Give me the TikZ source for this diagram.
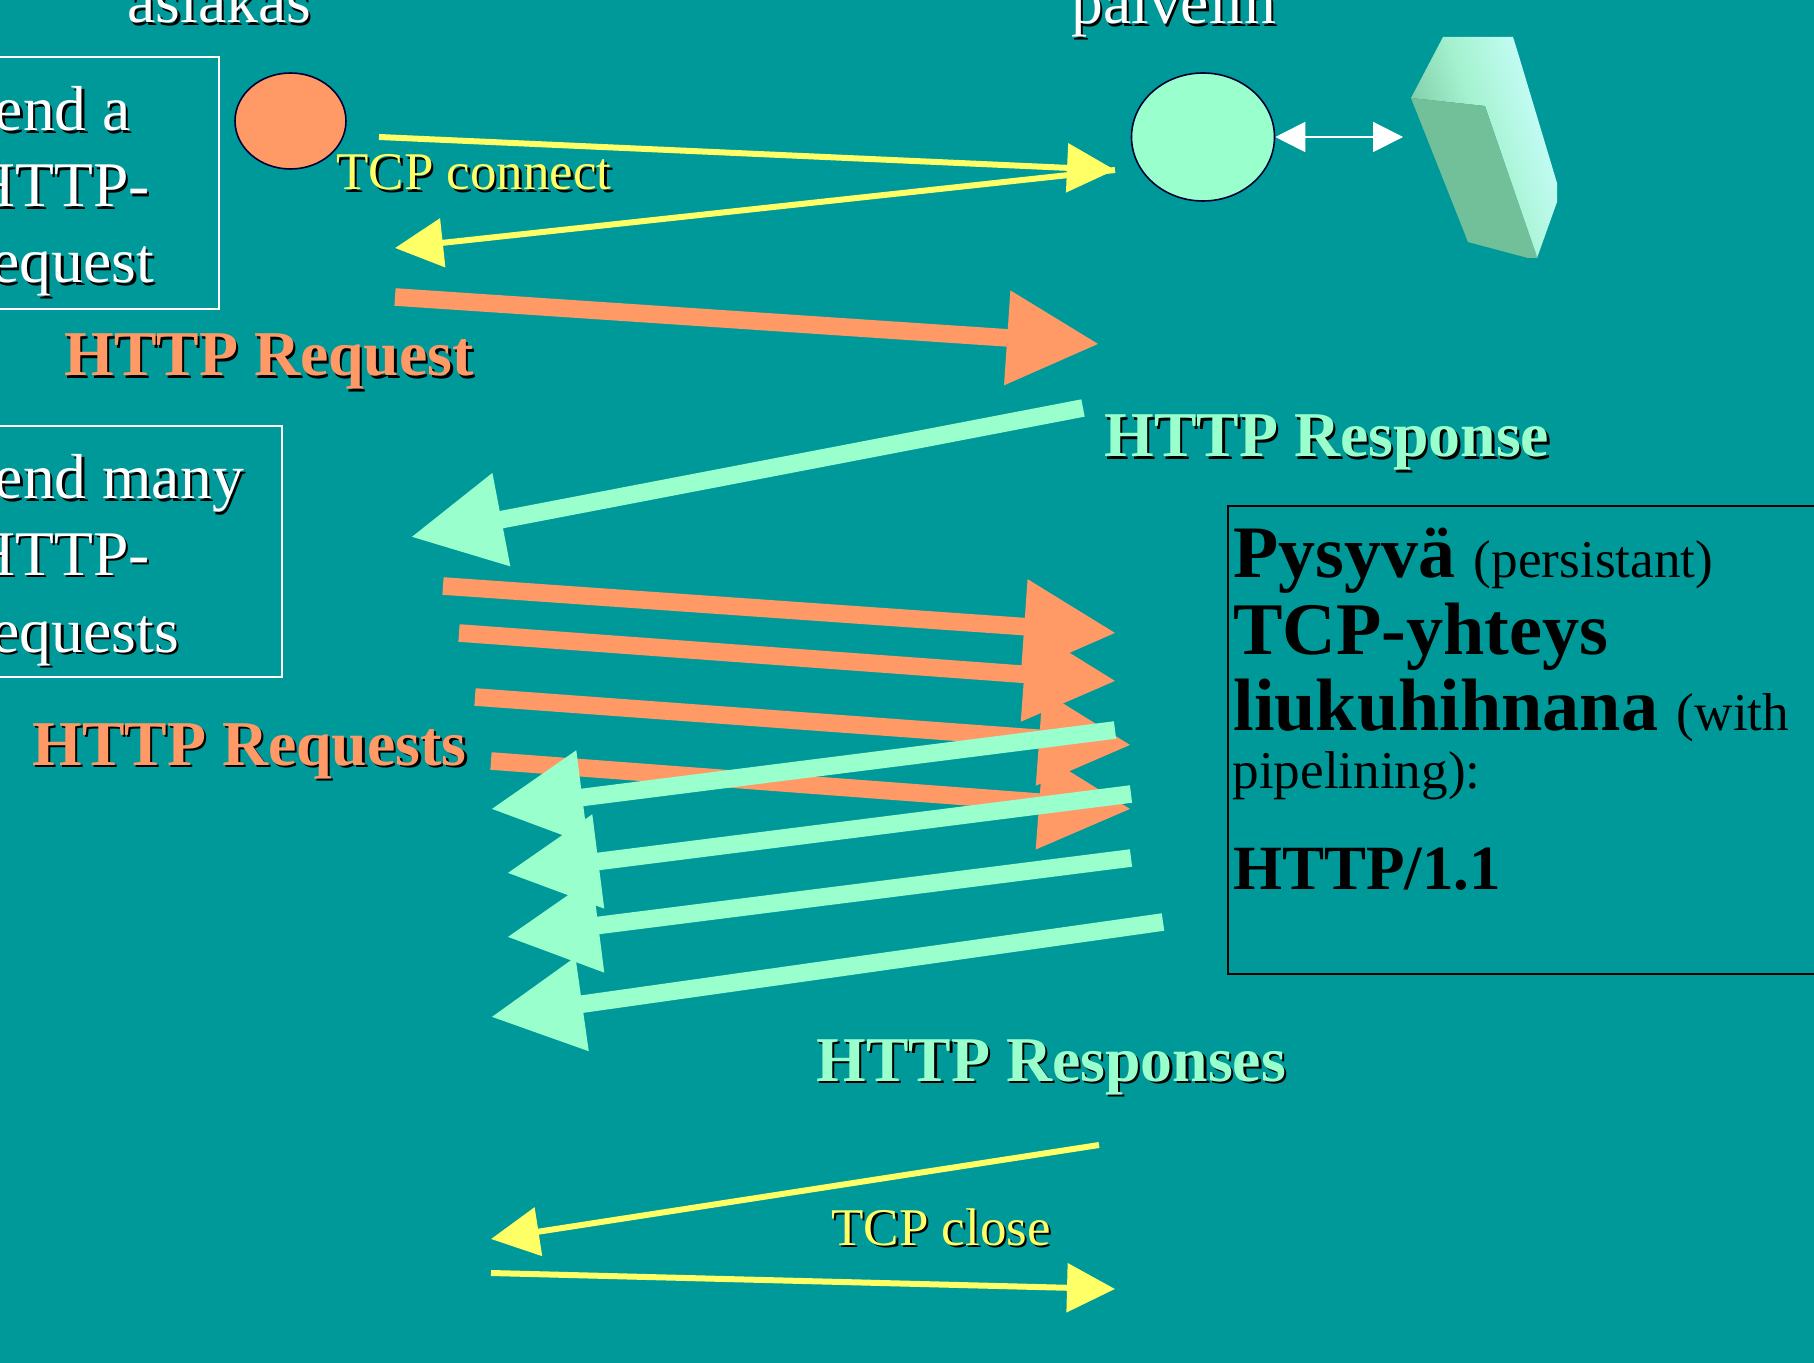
\documentclass[tikz,border=0pt]{standalone}
\usepackage{fontspec}
\usepackage{xcolor}
\setmainfont{Liberation Serif}
\usetikzlibrary{arrows.meta,shapes.geometric}
\definecolor{slidebg}{HTML}{009999}
\definecolor{reqcolor}{HTML}{FF9966}
\definecolor{respcolor}{HTML}{99FFCC}
\definecolor{tcpcolor}{HTML}{FFFF66}
\definecolor{diskdark}{HTML}{72C09A}
\definecolor{diskmid}{HTML}{A4F2CF}
\definecolor{disklight}{HTML}{CCFFFF}
\newcommand{\shadowed}[2]{\leavevmode\rlap{\hspace{1.2pt}\raisebox{-1.2pt}{\color{black}#2}}{\color{#1}#2}}
\tikzset{
	lbl/.style={inner sep=0pt,anchor=base west},
	bigfont/.style={lbl,font=\fontsize{31.8}{36}\selectfont},
	boldfont/.style={lbl,font=\fontsize{31.9}{36}\selectfont\bfseries},
	tcpfont/.style={lbl,font=\fontsize{26.5}{30}\selectfont},
	reqarrow/.style={draw=reqcolor,line width=8.8pt,-{Triangle[length=46pt,width=45pt,fill=reqcolor]}},
	resparrow/.style={draw=respcolor,line width=8.8pt,-{Triangle[length=46pt,width=45pt,fill=respcolor]}},
	tcparrow/.style={draw=tcpcolor,line width=3pt,-{Triangle[length=24pt,width=24pt,fill=tcpcolor]}},
	hostnode/.style={ellipse,draw=black!80!blue,line width=0.8pt,inner sep=0pt},
}
\begin{document}
\begin{tikzpicture}[x=0.5pt,y=-0.5pt]
	\useasboundingbox (0,0) rectangle (1814,1363);
	\clip (0,0) rectangle (1814,1363);
	\fill[slidebg] (0,0) rectangle (1814,1363);
	\node[bigfont] (asiakas) at(127,23) {\shadowed{white}{asiakas}};
	\node[bigfont] (palvelin) at(1071,24) {\shadowed{white}{palvelin}};
	\draw[white,line width=1.3pt] (-20,57) rectangle (219,309);
	\node[bigfont] (senda) at(-41,131) {\shadowed{white}{Send a}};
	\node[bigfont] (sendb) at(-31,207) {\shadowed{white}{HTTP-}};
	\node[bigfont] (sendc) at(-30,283) {\shadowed{white}{request}};
	\draw[white,line width=1.3pt] (-20,426) rectangle (282,677);
	\node[bigfont] (manya) at(-41,499) {\shadowed{white}{Send many}};
	\node[bigfont] (manyb) at(-31,575) {\shadowed{white}{HTTP-}};
	\node[bigfont] (manyc) at(-30,652) {\shadowed{white}{requests}};
	\node[hostnode,fill=reqcolor,minimum width=55.5pt,minimum height=48pt] (client) at(290.5,121) {};
	\node[hostnode,fill=respcolor,minimum width=71.5pt,minimum height=64pt] (server) at(1203,137) {};
	\shade[left color=diskdark,right color=disklight,middle color=diskmid,shading angle=107] (1411,98)--(1443,37)--(1513,37)--(1518,53)--(1557,183)--(1557,202)--(1537,258)--(1485,106)--cycle;
	\fill[diskdark] (1411,98)--(1485,106)--(1537.5,258)--(1528,258)--(1468,242)--cycle;
	\coordinate (disk) at(1403,137);
	\draw[white,line width=1pt,{Triangle[length=15pt,width=15pt]}-{Triangle[length=15pt,width=15pt]}] (server.east)--(disk);
	\coordinate (cona) at(379,137);
	\coordinate (conb) at(1115,170);
	\coordinate (conc) at(395,248);
	\draw[tcparrow] (cona)--(conb);
	\draw[tcparrow] (conb)--(conc);
	\node[tcpfont] (connect) at(336,190) {\shadowed{tcpcolor}{TCP connect}};
	\coordinate (reqa) at(395,297);
	\coordinate (reqb) at(1099,344);
	\draw[reqarrow] (reqa)--(reqb);
	\node[boldfont] (request) at(64,376) {\shadowed{reqcolor}{HTTP Request}};
	\coordinate (respa) at(1083,408);
	\coordinate (respb) at(411,537);
	\draw[resparrow] (respa)--(respb);
	\node[boldfont] (response) at(1104,457) {\shadowed{respcolor}{HTTP Response}};
	\coordinate (pipea) at(443,586);
	\coordinate (pipeb) at(1116,633);
	\coordinate (pipec) at(459,633);
	\coordinate (piped) at(1116,681);
	\coordinate (pipee) at(475,697);
	\coordinate (pipef) at(1131,745);
	\coordinate (pipeg) at(491,761);
	\coordinate (pipeh) at(1131,809);
	\draw[reqarrow] (pipea)--(pipeb);
	\draw[reqarrow] (pipec)--(piped);
	\draw[reqarrow] (pipee)--(pipef);
	\draw[reqarrow] (pipeg)--(pipeh);
	\node[boldfont] (requests) at(32,765) {\shadowed{reqcolor}{HTTP Requests}};
	\coordinate (backa) at(1115,730);
	\coordinate (backb) at(491,809);
	\coordinate (backc) at(1131,794);
	\coordinate (backd) at(507,873);
	\coordinate (backe) at(1131,858);
	\coordinate (backf) at(507,937);
	\coordinate (backg) at(1163,922);
	\coordinate (backh) at(491,1017);
	\draw[resparrow] (backa)--(backb);
	\draw[resparrow] (backc)--(backd);
	\draw[resparrow] (backe)--(backf);
	\draw[resparrow] (backg)--(backh);
	\node[boldfont] (responses) at(816,1081) {\shadowed{respcolor}{HTTP Responses}};
	\coordinate (closea) at(1099,1145);
	\coordinate (closeb) at(491,1239);
	\coordinate (closec) at(491,1273);
	\coordinate (closed) at(1115,1289);
	\draw[tcparrow] (closea)--(closeb);
	\draw[tcparrow] (closec)--(closed);
	\node[tcpfont] (close) at(831,1245) {\shadowed{tcpcolor}{TCP close}};
	\draw[black,line width=1pt] (1228,506) rectangle (1830,974);
	\node[lbl] (pysyva) at(1233,577) {\fontsize{37}{40}\selectfont\bfseries Pysyvä \fontsize{26.6}{30}\selectfont\mdseries (persistant)};
	\node[lbl,font=\fontsize{37.1}{40}\selectfont\bfseries] (yhteys) at(1233,654) {TCP-yhteys};
	\node[lbl] (liuku) at(1233,730) {\fontsize{37.1}{40}\selectfont\bfseries liukuhihnana \fontsize{26.6}{30}\selectfont\mdseries (with};
	\node[lbl,font=\fontsize{26.6}{30}\selectfont] (pipelining) at(1232,788) {pipelining):};
	\node[lbl,font=\fontsize{31.5}{36}\selectfont\bfseries] (version) at(1233,889) {HTTP/1.1};
\end{tikzpicture}
\end{document}
